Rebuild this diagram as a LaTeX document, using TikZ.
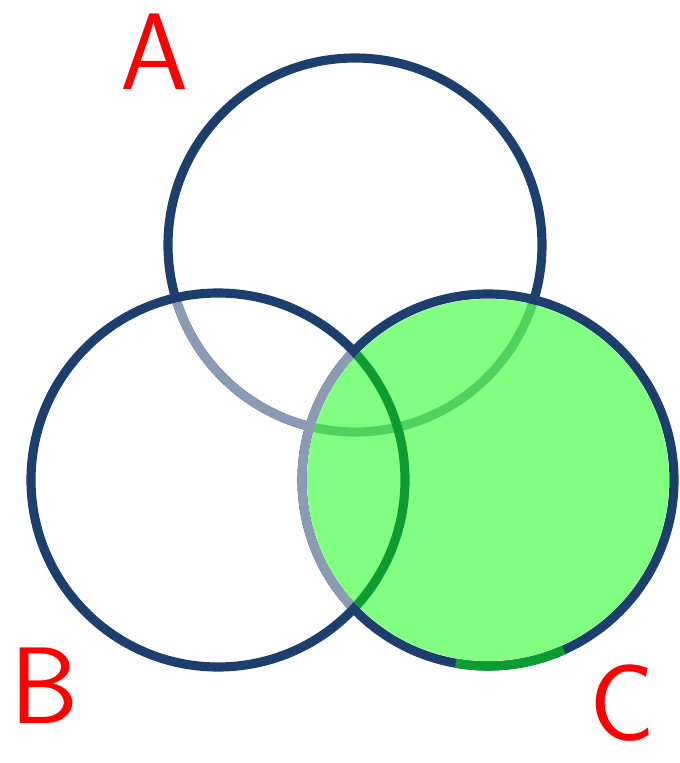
\documentclass[tikz,border=0pt]{standalone}
\usepackage{tikz}
\usetikzlibrary{positioning}
\definecolor{ringblue}{HTML}{1C3F6E}
\definecolor{ringgrey}{HTML}{8A9BB3}
\definecolor{fillgreen}{HTML}{80FF80}
\definecolor{darkgreen}{HTML}{0C9C32}
\definecolor{midgreen}{HTML}{50D25E}
\definecolor{labelred}{HTML}{FF0000}

\begin{document}
\begin{tikzpicture}[x=0.02cm, y=0.02cm,
    ring/.style={line width=5.2pt},
    letter/.style={text=labelred, inner sep=0pt, font=\sffamily\fontsize{62}{62}\selectfont}]
  \useasboundingbox (0,0) rectangle (679,-763);
  \coordinate (A) at (355,-245);
  \coordinate (B) at (218,-480);
  \coordinate (C) at (488,-480);
  % A and C first, B laid over them
  \draw[ring, ringblue] (A) circle[radius=187];
  \draw[ring, ringblue] (C) circle[radius=186];
  \begin{scope}
    \clip (B) circle[radius=187];
    \draw[ring, ringgrey] (A) circle[radius=187];
    \draw[ring, ringgrey] (C) circle[radius=186];
  \end{scope}
  \draw[ring, ringblue] (B) circle[radius=187];
  % shaded set C
  \fill[fillgreen] (C) circle[radius=181];
  \begin{scope}
    \clip (C) circle[radius=181];
    \draw[ring, midgreen] (A) circle[radius=187];
    \draw[ring, darkgreen] (B) circle[radius=187];
  \end{scope}
  \draw[ring, darkgreen] ([shift={(-100:186)}]C) arc[start angle=-100, end angle=-66, radius=186];
  \node[letter] (labA) at (155,-52) {A};
  \node[letter] (labB) at (45,-686) {B};
  \node[letter] (labC) at (622,-703) {C};
\end{tikzpicture}
\end{document}
